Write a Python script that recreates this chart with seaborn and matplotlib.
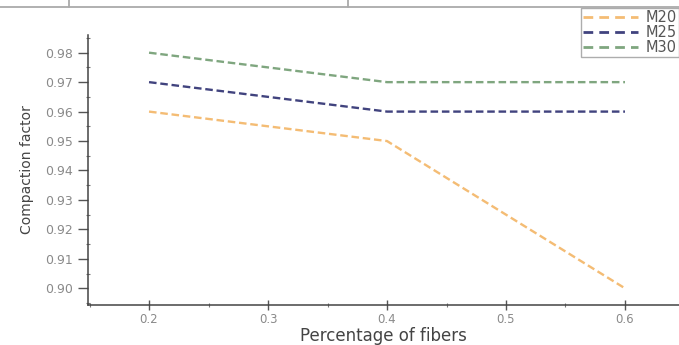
import pandas as pd
import matplotlib.pyplot as plt
import seaborn as sns
from matplotlib.lines import Line2D
from matplotlib.ticker import MultipleLocator

# ---------- Data ----------
fibers = [0.2, 0.4, 0.6]
m20 = [0.96, 0.95, 0.90]
m25 = [0.97, 0.96, 0.96]
m30 = [0.98, 0.97, 0.97]
mixes = ["M20", "M25", "M30"]
colors = ["#F4BC74", "#41437E", "#7FA67F"]

df = pd.DataFrame({
    "fibers": fibers * 3,
    "cf": m20 + m25 + m30,
    "mix": [m for m in mixes for _ in fibers],
})

# ---------- Plot ----------
sns.set_style("ticks")
fig = plt.figure(figsize=(6.79, 3.45), dpi=100)
ax = fig.add_axes([88 / 679, 0.1159, 1 - 88 / 679, 0.7827])

dash = (0, (3.2, 1.6))
sns.lineplot(data=df, x="fibers", y="cf", hue="mix", palette=colors,
             linewidth=1.7, ax=ax, legend=False)
for line in ax.get_lines():
    line.set_linestyle(dash)

ax.xaxis.set_major_locator(MultipleLocator(0.1))
ax.xaxis.set_minor_locator(MultipleLocator(0.05))
ax.yaxis.set_major_locator(MultipleLocator(0.01))
ax.yaxis.set_minor_locator(MultipleLocator(0.005))
ax.set_xlim(0.1487, 0.6454)
ax.set_ylim(0.89433, 0.98601)
ax.xaxis.set_major_formatter(lambda v, p: f"{v:.1f}")
ax.yaxis.set_major_formatter(lambda v, p: f"{v:.2f}")
ax.tick_params(axis="y", which="major", length=7, width=1, colors="#555555",
               labelsize=9, labelcolor="#8a8a8a", pad=4)
ax.tick_params(axis="x", which="major", length=7, width=1, direction="inout",
               colors="#555555", labelsize=8.5, labelcolor="#8a8a8a", pad=2)
ax.tick_params(which="minor", length=3, width=0.8, direction="inout", colors="#777777")

ax.set_xlabel("Percentage of fibers", fontsize=12, color="#444444", labelpad=1)
ax.set_ylabel("Compaction factor", fontsize=10, color="#444444", labelpad=8)
sns.despine(ax=ax)
for s in ["left", "bottom"]:
    ax.spines[s].set_color("#444444")
    ax.spines[s].set_linewidth(1.1)

handles = [Line2D([], [], color=c, lw=2, linestyle=(0, (3.5, 2.2))) for c in colors]
leg = ax.legend(handles, mixes, loc="upper right", bbox_to_anchor=(1.0, 1.1),
                frameon=True, fancybox=False, fontsize=10.5, handlelength=3.8,
                borderpad=0.15, labelspacing=0.0, handletextpad=0.5,
                borderaxespad=0)
leg.get_frame().set_edgecolor("#999999")
leg.get_frame().set_linewidth(1)
for t in leg.get_texts():
    t.set_color("#555555")

# table borders from the source document
y_line = 1 - 7 / 345
fig.add_artist(Line2D([0, 1], [y_line, y_line], color="#aaaaaa", lw=1.3,
                      transform=fig.transFigure))
for xv in [69 / 679, 348 / 679]:
    fig.add_artist(Line2D([xv, xv], [y_line, 1.0], color="#aaaaaa", lw=1.3,
                          transform=fig.transFigure))

plt.savefig("out.png", dpi=100)
plt.close()
